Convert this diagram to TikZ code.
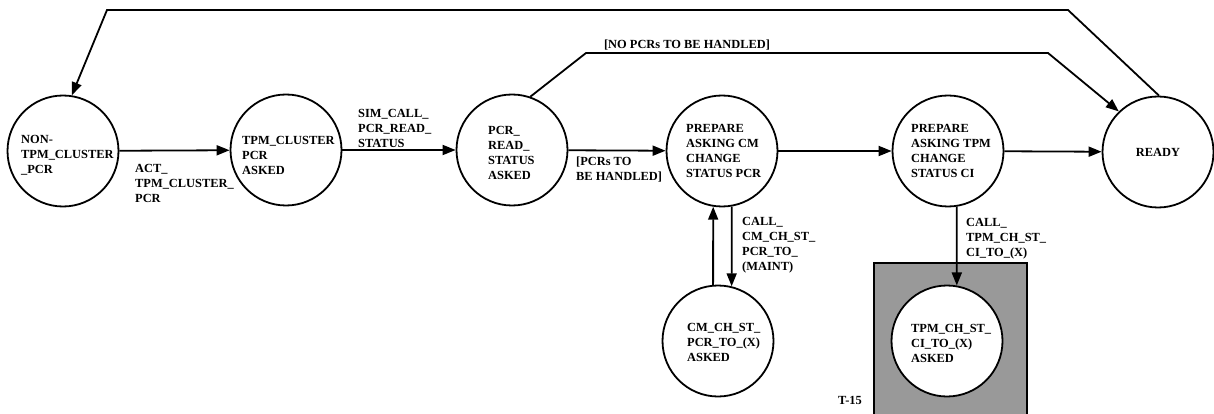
\documentclass[tikz,border=0pt]{standalone}
\usepackage{fontspec}
\setmainfont{Liberation Serif}
\usetikzlibrary{arrows.meta}
\definecolor{boxgray}{RGB}{153,153,153}
\begin{document}
\begin{tikzpicture}[x=1pt,y=-1pt,
  txt/.style={font=\fontsize{12.4}{15}\selectfont\bfseries},
  state/.style={draw, circle, line width=1.8pt, minimum size=111pt, inner sep=0pt, fill=white},
  stext/.style={txt, inner sep=0pt, align=left},
  lbl/.style={txt, inner sep=0pt, align=left, anchor=north west},
  ln/.style={line width=1.8pt},
  arr/.style={ln, -{Triangle[length=13pt,width=10pt]}}]
\useasboundingbox (0,0) rectangle (1214,414);
% grey area
\fill[boxgray] (874,263) rectangle (1027,414);
\draw[ln] (874,414) -- (874,263) -- (1027,263) -- (1027,414);
\node[txt, anchor=center] (t15) at (850,400) {T-15};
% states
\node[state] (n1) at (63,151) {};
\node[state] (n2) at (286,150) {};
\node[state] (n3) at (512,150) {};
\node[state] (n4) at (722,151) {};
\node[state] (n5) at (948,151) {};
\node[state] (n6) at (1158,152) {};
\node[state] (n7) at (718,341) {};
\node[state] (n8) at (947,341) {};
% state texts
\node[stext, anchor=west] (s1) at (21,155) {NON-\\TPM\_CLUSTER\\\_PCR};
\node[stext, anchor=west] (s2) at (242,155) {TPM\_CLUSTER\\PCR\\ASKED};
\node[stext, anchor=west] (s3) at (488,153) {PCR\_\\READ\_\\STATUS\\ASKED};
\node[stext, anchor=west] (s4) at (686,151) {PREPARE\\ASKING CM\\CHANGE\\STATUS PCR};
\node[stext, anchor=west] (s5) at (911,151) {PREPARE\\ASKING TPM\\CHANGE\\STATUS CI};
\node[stext] (s6) at (1158,152) {READY};
\node[stext, anchor=west] (s7) at (687,342) {CM\_CH\_ST\_\\PCR\_TO\_(X)\\ASKED};
\node[stext, anchor=west] (s8) at (911,343) {TPM\_CH\_ST\_\\CI\_TO\_(X)\\ASKED};
% corners
\coordinate (a1) at (1068,10);
\coordinate (a2) at (107,10);
\coordinate (b1) at (586,53);
\coordinate (b2) at (1048,53);
% transitions
\draw[arr] (n1) -- (n2);
\draw[arr] (n2) -- (n3);
\draw[arr] (n3) -- (n4);
\draw[arr] (n4) -- (n5);
\draw[arr] (n5) -- (n6);
\draw[arr] (n4.280) -- (n7.76);
\draw[arr] (n7.95) -- (n4.261);
\draw[arr] (n5.279) -- (n8.80);
\draw[arr] (n3.71) -- (b1) -- (b2) -- (n6.134);
\draw[arr] (n6.89) -- (a1) -- (a2) -- (n1.81);
% labels
\node[lbl] (l1) at (135,164) {ACT\_\\TPM\_CLUSTER\_\\PCR};
\node[lbl] (l2) at (358,109) {SIM\_CALL\_\\PCR\_READ\_\\STATUS};
\node[lbl] (l3) at (576,157) {[PCRs TO\\BE HANDLED]};
\node[lbl] (l4) at (742,217) {CALL\_\\CM\_CH\_ST\_\\PCR\_TO\_\\(MAINT)};
\node[lbl] (l5) at (966,218) {CALL\_\\TPM\_CH\_ST\_\\CI\_TO\_(X)};
\node[txt, inner sep=0pt] (l6) at (687,45) {[NO PCRs TO BE HANDLED]};
\end{tikzpicture}
\end{document}
